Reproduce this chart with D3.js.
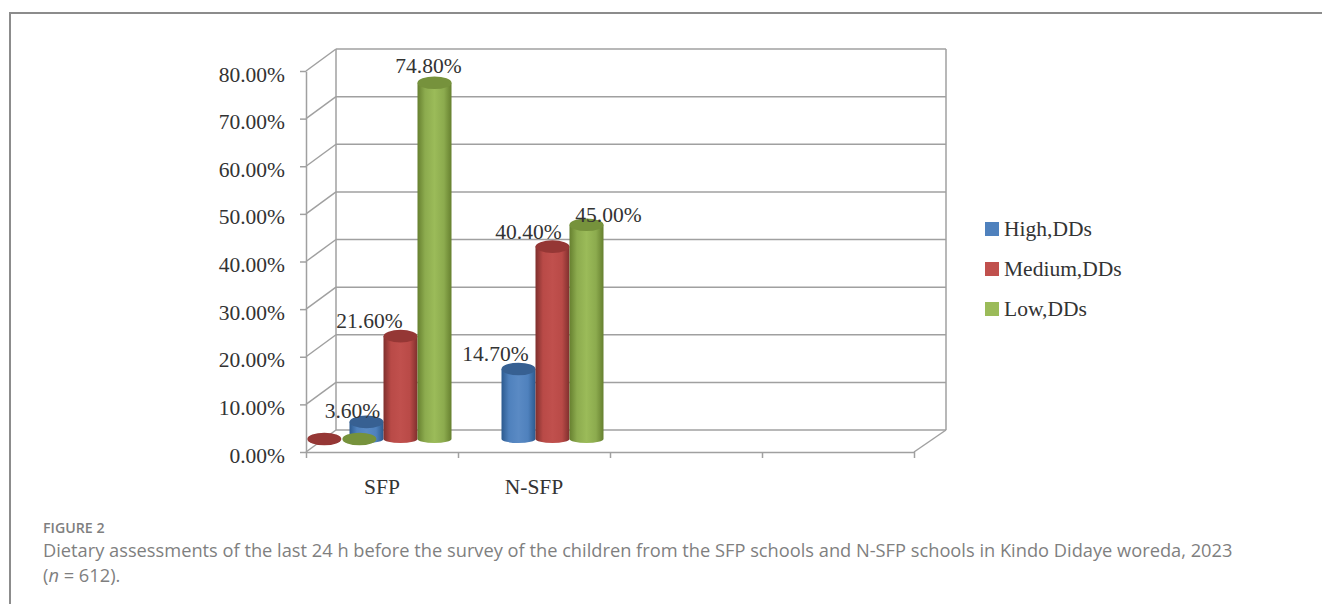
<!DOCTYPE html>
<html>
<head>
<meta charset="utf-8">
<script src="https://cdn.jsdelivr.net/npm/d3@7"></script>
<style>
  body { margin: 0; background: #fff; }
  svg { display: block; }
  .chart-text { font-family: "Liberation Serif", serif; font-size: 21.5px; fill: #333; }
  .caption { font-family: "Open Sans", sans-serif; fill: #7f7f7f; }
  .axis path, .axis line { stroke: #a0a0a0; stroke-width: 1.5; }
  .wall { fill: none; stroke: #a0a0a0; stroke-width: 1.5; }
</style>
</head>
<body>
<div id="chart"></div>
<script>
var categories = ["SFP", "N-SFP", "", ""];
var seriesNames = ["High,DDs", "Medium,DDs", "Low,DDs"];
var sfpValues = [3.6, 21.6, 74.8];
var nsfpValues = [14.7, 40.4, 45.0];
var valueTicks = [0, 10, 20, 30, 40, 50, 60, 70, 80];

var width = 1322, height = 604;
var depth = { x: 30, y: -22 };
var barWidth = 34, capRy = 6.3, baseRy = 4;

var colours = {
    "High,DDs": { edge: "#2c5a8f", mid: "#4f81bd", light: "#5a8ac4", cap: "#376092", key: "#4f81bd" },
    "Medium,DDs": { edge: "#7f2f2d", mid: "#b94a47", light: "#c0504d", cap: "#953735", key: "#c0504d" },
    "Low,DDs": { edge: "#66802f", mid: "#8cab4e", light: "#9bbb59", cap: "#76923c", key: "#9bbb59" }
};

var svg = d3.select("#chart").append("svg")
    .attr("width", width)
    .attr("height", height);

// page frame from the article figure box
svg.append("path")
    .attr("d", "M10,604V13H1322")
    .attr("fill", "none")
    .attr("stroke", "#8c8c8c")
    .attr("stroke-width", 2);

var y = d3.scaleLinear().domain([0, 80]).range([452, 71]);
var xBand = d3.scaleBand().domain(d3.range(categories.length)).range([306, 914]);
var xInner = d3.scaleBand().domain(seriesNames).range([-1.5 * barWidth, 1.5 * barWidth]);

// back wall and floor
var backLeft = xBand.range()[0] + depth.x;
var backRight = xBand.range()[1] + depth.x + 2;
var wall = svg.append("g").attr("class", "wall");
wall.selectAll("line.grid").data(valueTicks).enter().append("line")
    .attr("class", "grid")
    .attr("x1", backLeft)
    .attr("x2", backRight)
    .attr("y1", function(d) { return y(d) + depth.y; })
    .attr("y2", function(d) { return y(d) + depth.y; });
wall.selectAll("line.side").data(valueTicks).enter().append("line")
    .attr("class", "side")
    .attr("x1", xBand.range()[0])
    .attr("x2", backLeft)
    .attr("y1", function(d) { return y(d); })
    .attr("y2", function(d) { return y(d) + depth.y; });
wall.append("line")
    .attr("x1", backLeft).attr("x2", backLeft)
    .attr("y1", y(80) + depth.y).attr("y2", y(0) + depth.y);
wall.append("line")
    .attr("x1", backRight).attr("x2", backRight)
    .attr("y1", y(80) + depth.y).attr("y2", y(0) + depth.y);
wall.append("line")
    .attr("x1", xBand.range()[1]).attr("x2", backRight)
    .attr("y1", y(0)).attr("y2", y(0) + depth.y);

// axes
var yAxis = svg.append("g")
    .attr("class", "axis")
    .attr("transform", "translate(" + xBand.range()[0] + ",0)")
    .call(d3.axisLeft(y).tickValues(valueTicks).tickSize(6).tickSizeOuter(0)
        .tickFormat(function(d) { return d.toFixed(2) + "%"; }));
yAxis.selectAll("text").attr("class", "chart-text").attr("x", -21).attr("y", 3).attr("dy", "0.33em");

var xTicks = d3.scaleLinear().domain([0, categories.length]).range(xBand.range());
svg.append("g")
    .attr("class", "axis")
    .attr("transform", "translate(0," + y(0) + ")")
    .call(d3.axisBottom(xTicks).ticks(categories.length).tickSize(6).tickSizeOuter(0).tickFormat(""));

var xLabels = svg.append("g")
    .attr("class", "axis")
    .attr("transform", "translate(0," + y(0) + ")")
    .call(d3.axisBottom(xBand).tickSize(0).tickFormat(function(i) { return categories[i]; }));
xLabels.select(".domain").remove();
xLabels.selectAll("text").attr("class", "chart-text").attr("y", 27).attr("dy", "0.71em");

// gradients
var defs = svg.append("defs");
seriesNames.forEach(function(name, i) {
    var c = colours[name];
    var g = defs.append("linearGradient").attr("id", "cyl" + i);
    g.append("stop").attr("offset", "0%").attr("stop-color", c.edge);
    g.append("stop").attr("offset", "22%").attr("stop-color", c.mid);
    g.append("stop").attr("offset", "50%").attr("stop-color", c.light);
    g.append("stop").attr("offset", "78%").attr("stop-color", c.mid);
    g.append("stop").attr("offset", "100%").attr("stop-color", c.edge);
});

// bars sit mid way through the floor
var planeDrop = -13, planeShift = 18.5;
function barY(v) { return y(v) + planeDrop; }
function barX(catIndex, name) {
    return xBand(catIndex) + xBand.bandwidth() / 2 + planeShift + xInner(name);
}

function cylinder(parent, x, v, name, i) {
    var top = barY(v), base = barY(0), rx = barWidth / 2;
    parent.append("path")
        .attr("d", "M" + x + "," + top + "V" + base +
            "A" + rx + "," + baseRy + " 0 0 0 " + (x + barWidth) + "," + base +
            "V" + top + "Z")
        .attr("fill", "url(#cyl" + i + ")");
    parent.append("ellipse")
        .attr("cx", x + rx)
        .attr("cy", top)
        .attr("rx", rx)
        .attr("ry", capRy)
        .attr("fill", colours[name].cap);
}

var bars = svg.append("g");
[sfpValues, nsfpValues].forEach(function(values, c) {
    values.forEach(function(v, i) {
        cylinder(bars, barX(c, seriesNames[i]), v, seriesNames[i], i);
    });
});

// two empty discs in the SFP group, value 0
var discs = [{ name: "Medium,DDs", slot: -2.24 }, { name: "Low,DDs", slot: -1.21 }];
discs.forEach(function(d) {
    svg.append("ellipse")
        .attr("cx", barX(0, "Medium,DDs") + barWidth / 2 + d.slot * barWidth)
        .attr("cy", barY(0))
        .attr("rx", barWidth / 2)
        .attr("ry", capRy)
        .attr("fill", colours[d.name].cap);
});

// data labels, each one nudged the way the original chart placed them
var labelNudge = [
    [[-14, -4], [-31, -8], [-6, -10]],
    [[-23, -8], [-24, -8], [22, -3]]
];
[sfpValues, nsfpValues].forEach(function(values, c) {
    values.forEach(function(v, i) {
        svg.append("text")
            .attr("class", "chart-text")
            .attr("text-anchor", "middle")
            .attr("x", barX(c, seriesNames[i]) + barWidth / 2 + labelNudge[c][i][0])
            .attr("y", barY(v) + labelNudge[c][i][1])
            .text(v.toFixed(2) + "%");
    });
});

// legend
var legend = svg.selectAll("g.key").data(seriesNames).enter().append("g")
    .attr("class", "key")
    .attr("transform", function(d, i) { return "translate(985," + (222 + i * 40) + ")"; });
legend.append("rect")
    .attr("width", 14)
    .attr("height", 14)
    .attr("fill", function(d) { return colours[d].key; });
legend.append("text")
    .attr("class", "chart-text")
    .attr("x", 19)
    .attr("y", 14)
    .text(function(d) { return d; });

// caption
svg.append("text")
    .attr("class", "caption")
    .attr("x", 43).attr("y", 533)
    .attr("font-size", 14.2)
    .attr("font-weight", 600)
    .text("FIGURE 2");
svg.append("text")
    .attr("class", "caption")
    .attr("x", 43).attr("y", 557)
    .attr("font-size", 18.25)
    .text("Dietary assessments of the last 24 h before the survey of the children from the SFP schools and N-SFP schools in Kindo Didaye woreda, 2023");
var last = svg.append("text")
    .attr("class", "caption")
    .attr("x", 43).attr("y", 582)
    .attr("font-size", 18.25);
last.append("tspan").text("(");
last.append("tspan").attr("font-style", "italic").text("n");
last.append("tspan").text(" = 612).");
</script>
</body>
</html>
